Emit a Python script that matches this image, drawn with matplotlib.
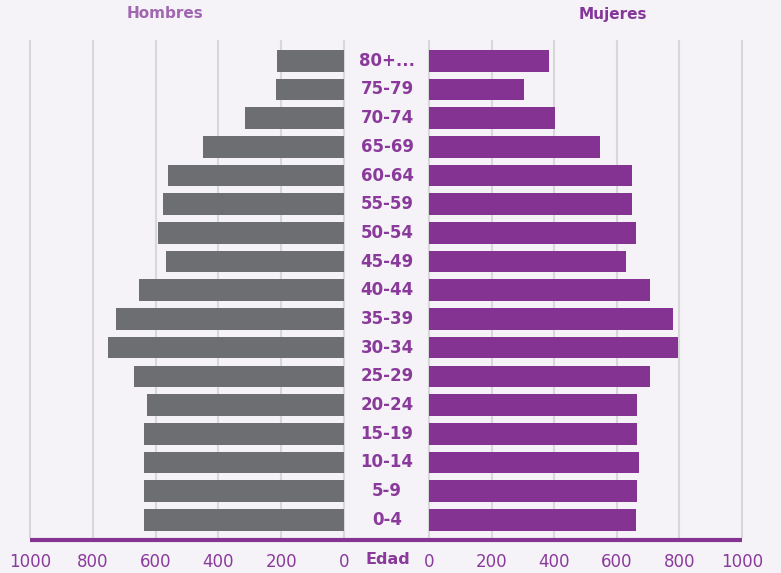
import matplotlib.pyplot as plt
from matplotlib.lines import Line2D
from matplotlib.transforms import blended_transform_factory

# age groups, bottom to top
edades = ["0-4", "5-9", "10-14", "15-19", "20-24", "25-29", "30-34", "35-39",
          "40-44", "45-49", "50-54", "55-59", "60-64", "65-69", "70-74",
          "75-79", "80+..."]
hombres = [636, 638, 638, 636, 626, 670, 750, 727, 654, 568, 591, 578, 559,
           450, 316, 218, 214]
mujeres = [660, 663, 672, 666, 663, 706, 796, 780, 707, 628, 660, 649, 649,
           545, 401, 305, 382]
ticks = [0, 200, 400, 600, 800, 1000]

bg = "#f5f3f7"
gris = "#6d6e71"
morado = "#853393"
texto = "#8a3a9b"
W, H = 781, 573

fig = plt.figure(figsize=(W / 100, H / 100), dpi=100, facecolor=bg)
bottom = 1 - 537 / H
height = (537 - 41) / H
axL = fig.add_axes([30 / W, bottom, (344 - 30) / W, height])
axR = fig.add_axes([429 / W, bottom, (742 - 429) / W, height])

y = list(range(len(edades)))
axL.barh(y, hombres, height=0.755, color=gris, zorder=3)
axR.barh(y, mujeres, height=0.755, color=morado, zorder=3)

for ax in (axL, axR):
    ax.set_facecolor(bg)
    ax.set_xlim(0, 1000)
    ax.set_ylim(-0.6, 16.69)
    ax.set_xticks(ticks)
    ax.set_xticklabels([str(t) for t in ticks])
    ax.set_yticks([])
    ax.tick_params(axis="x", length=0, pad=11.5, labelsize=12, labelcolor=texto)
    for s in ax.spines.values():
        s.set_visible(False)
    ax.grid(axis="x", color="#d8d8db", linewidth=1.5, zorder=0)
    ax.set_axisbelow(True)
    for gl in ax.get_xgridlines():
        gl.set_clip_on(False)
axL.invert_xaxis()

# age labels in the middle
tr = blended_transform_factory(fig.transFigure, axL.transData)
for yi, lab in zip(y, edades):
    fig.text(387 / W, yi, lab, transform=tr, ha="center", va="center",
             fontsize=12, fontweight="bold", color=texto)

fig.text(388 / W, 1 - 560 / H, "Edad", ha="center", va="center",
         fontsize=11.5, fontweight="bold", color=texto)
fig.text(165 / W, 1 - 14 / H, "Hombres", ha="center", va="center",
         fontsize=11, fontweight="bold", color="#a067b0")
fig.text(613 / W, 1 - 14 / H, "Mujeres", ha="center", va="center",
         fontsize=11, fontweight="bold", color="#86359a")

# purple base line
fig.add_artist(Line2D([30 / W, 742 / W], [1 - 540 / H, 1 - 540 / H],
                      transform=fig.transFigure, color=morado, linewidth=3,
                      solid_capstyle="butt"))

fig.savefig("out.png", dpi=100, facecolor=bg)
